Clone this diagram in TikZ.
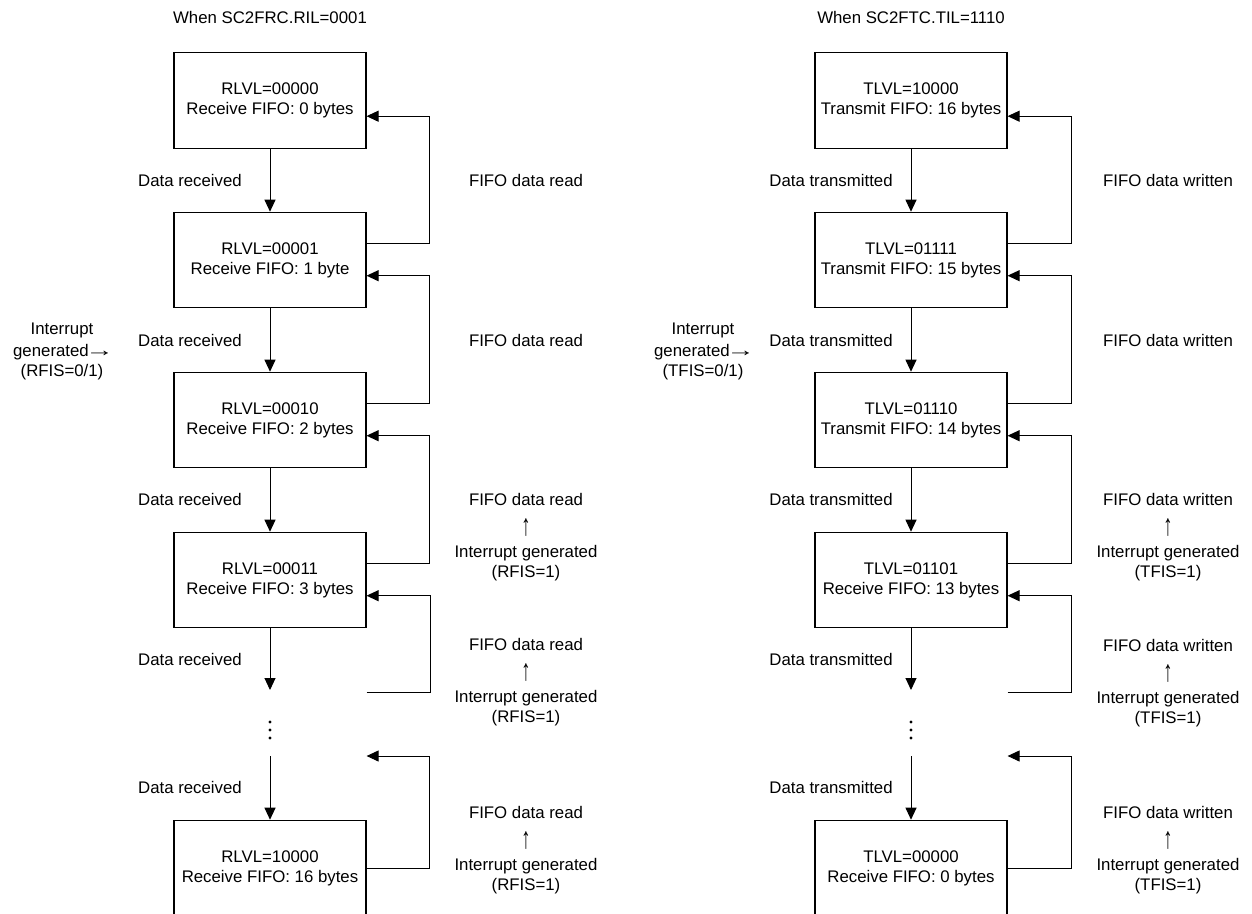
\documentclass[tikz,border=0pt]{standalone}
\usepackage{fontspec}
\setmainfont{Liberation Sans}
\usetikzlibrary{arrows.meta}
\newcommand\dfs{\fontsize{16.8}{20}\selectfont}
\newcommand\uparr{\scalebox{1.1}[1.8]{↑}}
\newcommand\rtarr{\kern-3.5pt\scalebox{1.7}[1.1]{→}\kern-3pt}
\begin{document}
\begin{tikzpicture}[x=1pt,y=-1pt,
  box/.style={draw=black, line width=1.1pt, minimum width=192pt, minimum height=95.5pt,
              align=center, inner sep=0pt, font=\dfs},
  lbl/.style={anchor=base, inner sep=0pt, font=\dfs},
  arr/.style={-{Triangle[length=12pt,width=11pt]}, line width=1pt},
  fb/.style={line width=1pt}]
\useasboundingbox (0,0) rectangle (1252,913);
\clip (0,0) rectangle (1252,913);

% ---------------- left column ----------------
\node[lbl] (Ltitle) at (270,23) {When SC2FRC.RIL=0001};
\node[box] (L1) at (270,100.5) {RLVL=00000\\Receive FIFO: 0 bytes};
\node[box] (L2) at (270,260) {RLVL=00001\\Receive FIFO: 1 byte};
\node[box] (L3) at (270,420) {RLVL=00010\\Receive FIFO: 2 bytes};
\node[box] (L4) at (270,580) {RLVL=00011\\Receive FIFO: 3 bytes};
\node[box] (L5) at (270,868) {RLVL=10000\\Receive FIFO: 16 bytes};
\coordinate (Lend) at (270,690);
\coordinate (Lstart) at (270,756);
\coordinate (Lfb4) at (366.6,692);
\coordinate (Lfb5) at (366.6,756);

\draw[arr] (L1.south) -- (L2.north);
\draw[arr] (L2.south) -- (L3.north);
\draw[arr] (L3.south) -- (L4.north);
\draw[arr] (L4.south) -- (Lend);
\draw[arr] (Lstart) -- (L5.north);
\foreach \yy in {722,730,738} \fill (270,\yy) circle (1.6);

\draw[arr] ([yshift=-32pt]L2.north east) -- ++(63.4,0) |- ([yshift=-64pt]L1.north east);
\draw[arr] ([yshift=-32pt]L3.north east) -- ++(63.4,0) |- ([yshift=-64pt]L2.north east);
\draw[arr] ([yshift=-32pt]L4.north east) -- ++(63.4,0) |- ([yshift=-64pt]L3.north east);
\draw[arr] (Lfb4) -- ++(63.4,0) |- ([yshift=-64pt]L4.north east);
\draw[arr] (L5.east) -- ++(63.4,0) |- (Lfb5);

\node[lbl] (Ld1) at (190,186) {Data received};
\node[lbl] (Ld2) at (190,346) {Data received};
\node[lbl] (Ld3) at (190,505) {Data received};
\node[lbl] (Ld4) at (190,665) {Data received};
\node[lbl] (Ld5) at (190,793) {Data received};
\node[lbl] (Lr1) at (526,186) {FIFO data read};
\node[lbl] (Lr2) at (526,346) {FIFO data read};
\node[lbl] (Li1) at (62,334) {Interrupt};
\node[lbl] (Li2) at (62,356) {generated\rtarr};
\node[lbl] (Li3) at (62,376) {(RFIS=0/1)};
\foreach \g/\yy in {a/499,b/644,c/812}{
  \node[lbl] (Lg\g1) at (526,\yy+6) {FIFO data read};
  \node[lbl] (Lg\g2) at (526,\yy+36) {\uparr};
  \node[lbl] (Lg\g3) at (526,\yy+58) {Interrupt generated};
  \node[lbl] (Lg\g4) at (526,\yy+78.5) {(RFIS=1)};
}

% ---------------- right column ----------------
\node[lbl] (Rtitle) at (911,23) {When SC2FTC.TIL=1110};
\node[box] (R1) at (911,100.5) {TLVL=10000\\Transmit FIFO: 16 bytes};
\node[box] (R2) at (911,260) {TLVL=01111\\Transmit FIFO: 15 bytes};
\node[box] (R3) at (911,420) {TLVL=01110\\Transmit FIFO: 14 bytes};
\node[box] (R4) at (911,580) {TLVL=01101\\Receive FIFO: 13 bytes};
\node[box] (R5) at (911,868) {TLVL=00000\\Receive FIFO: 0 bytes};
\coordinate (Rend) at (911,690);
\coordinate (Rstart) at (911,756);
\coordinate (Rfb4) at (1007.6,692);
\coordinate (Rfb5) at (1007.6,756);

\draw[arr] (R1.south) -- (R2.north);
\draw[arr] (R2.south) -- (R3.north);
\draw[arr] (R3.south) -- (R4.north);
\draw[arr] (R4.south) -- (Rend);
\draw[arr] (Rstart) -- (R5.north);
\foreach \yy in {722,730,738} \fill (911,\yy) circle (1.6);

\draw[arr] ([yshift=-32pt]R2.north east) -- ++(64,0) |- ([yshift=-64pt]R1.north east);
\draw[arr] ([yshift=-32pt]R3.north east) -- ++(64,0) |- ([yshift=-64pt]R2.north east);
\draw[arr] ([yshift=-32pt]R4.north east) -- ++(64,0) |- ([yshift=-64pt]R3.north east);
\draw[arr] (Rfb4) -- ++(64,0) |- ([yshift=-64pt]R4.north east);
\draw[arr] (R5.east) -- ++(64,0) |- (Rfb5);

\node[lbl] (Rd1) at (831,186) {Data transmitted};
\node[lbl] (Rd2) at (831,346) {Data transmitted};
\node[lbl] (Rd3) at (831,505) {Data transmitted};
\node[lbl] (Rd4) at (831,665) {Data transmitted};
\node[lbl] (Rd5) at (831,793) {Data transmitted};
\node[lbl] (Rw1) at (1168,186) {FIFO data written};
\node[lbl] (Rw2) at (1168,346) {FIFO data written};
\node[lbl] (Ri1) at (703,334) {Interrupt};
\node[lbl] (Ri2) at (703,356) {generated\rtarr};
\node[lbl] (Ri3) at (703,376) {(TFIS=0/1)};
\foreach \g/\yy in {a/499,b/645,c/812}{
  \node[lbl] (Rg\g1) at (1168,\yy+6) {FIFO data written};
  \node[lbl] (Rg\g2) at (1168,\yy+36) {\uparr};
  \node[lbl] (Rg\g3) at (1168,\yy+58) {Interrupt generated};
  \node[lbl] (Rg\g4) at (1168,\yy+78.5) {(TFIS=1)};
}
\end{tikzpicture}
\end{document}
